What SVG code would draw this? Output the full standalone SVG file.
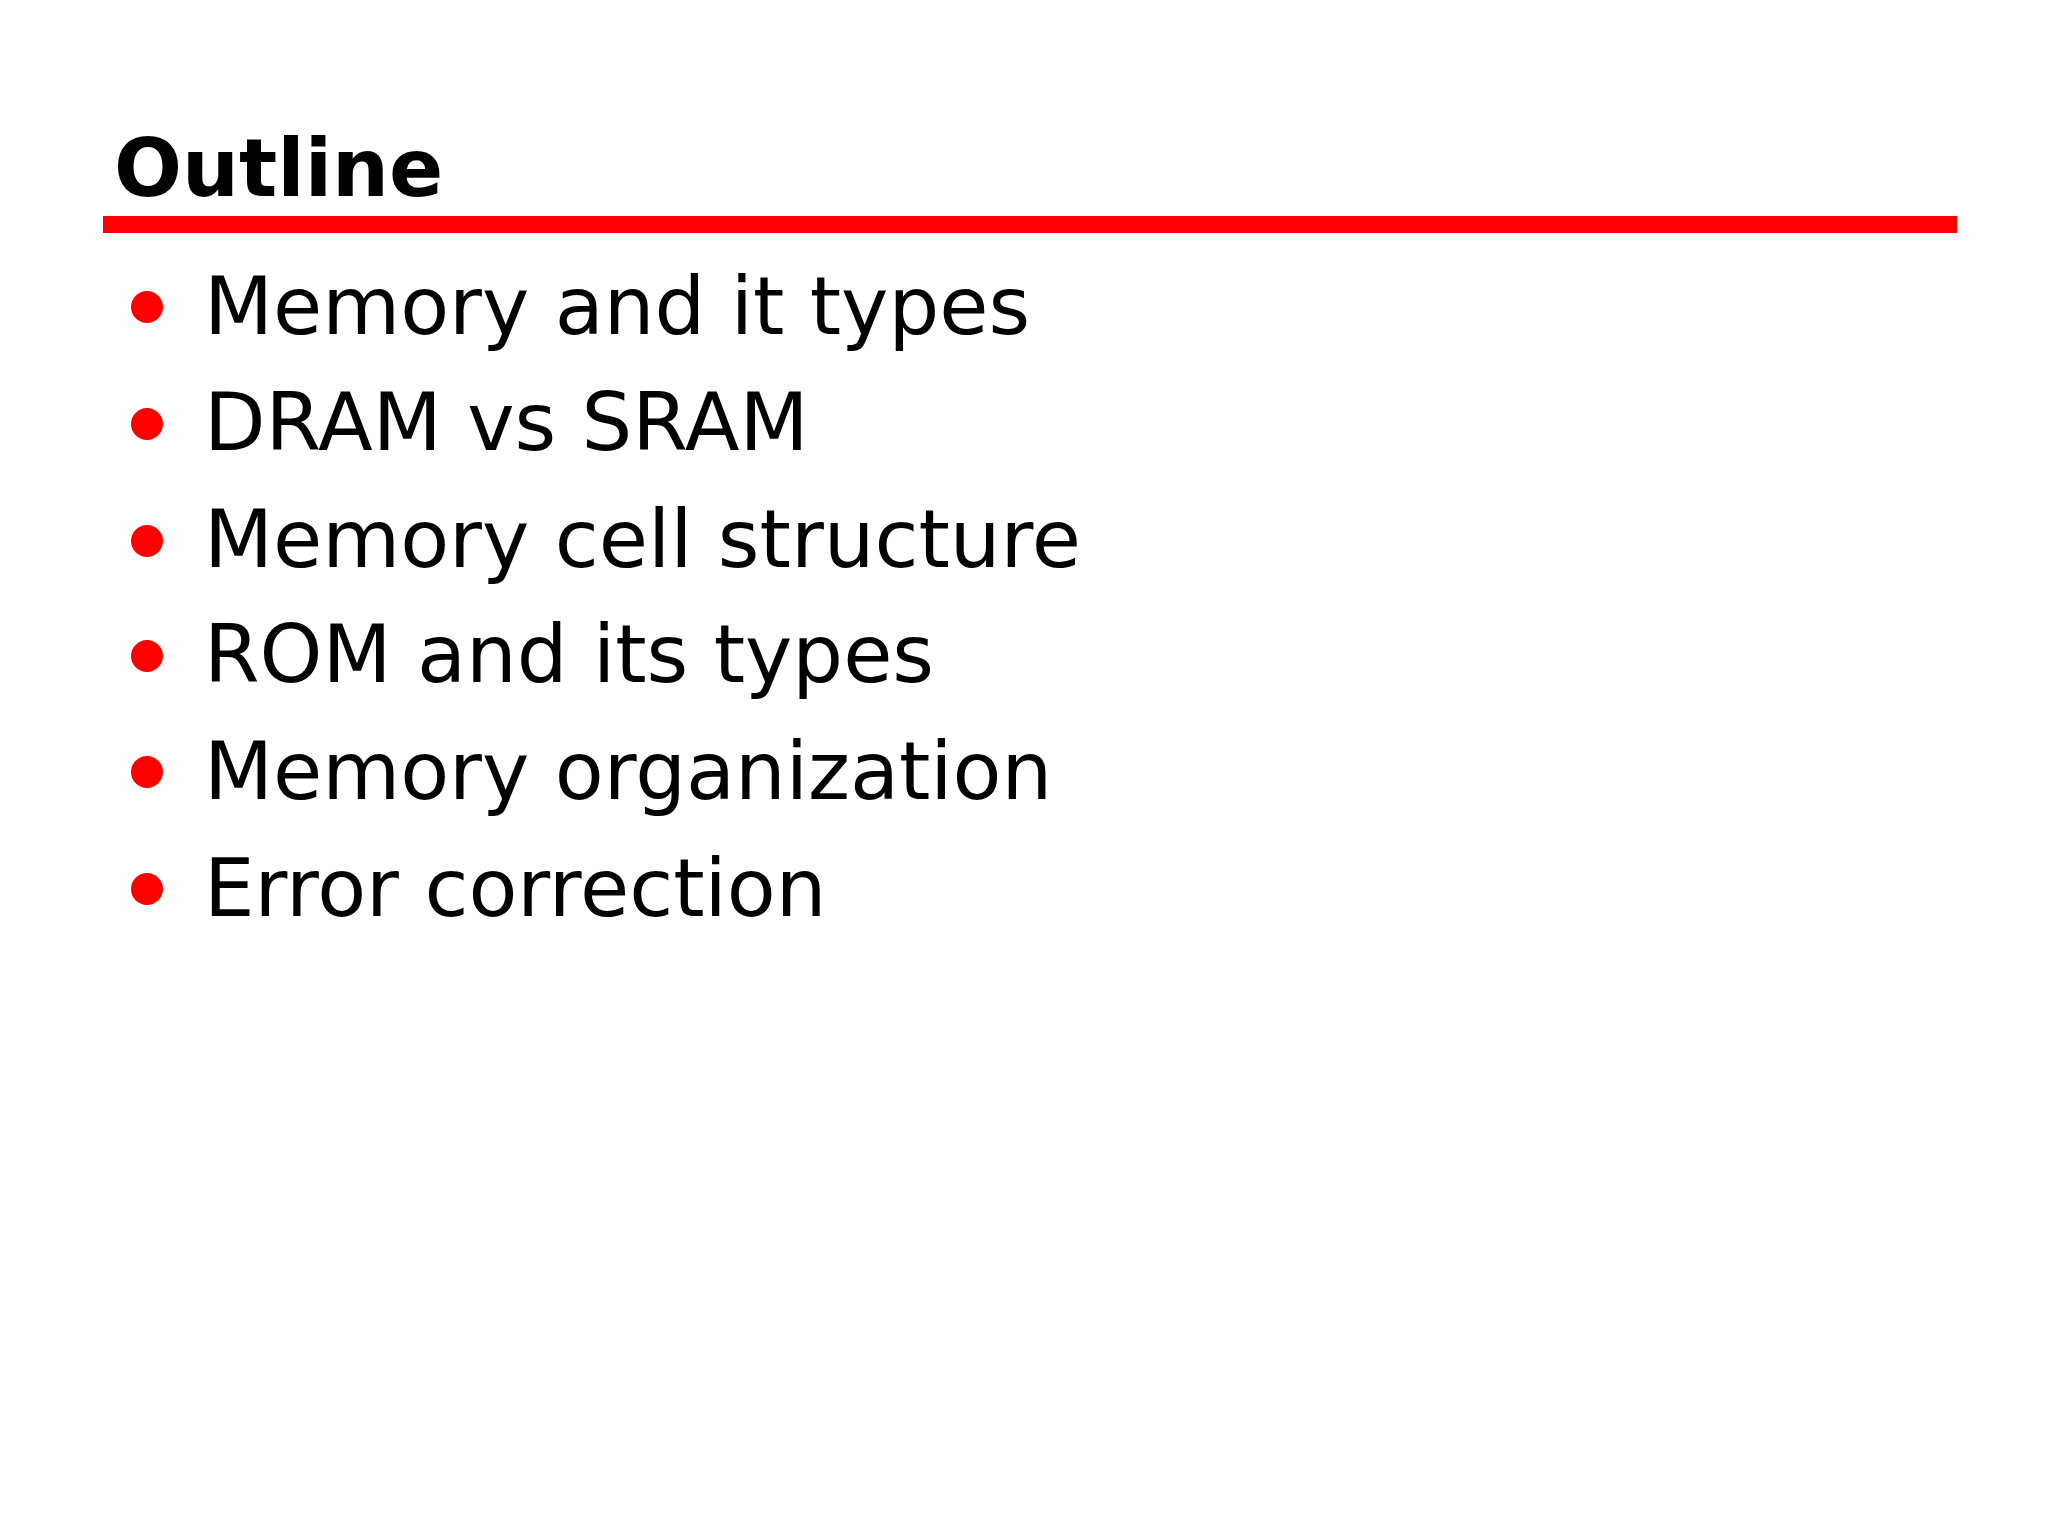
<svg xmlns="http://www.w3.org/2000/svg" width="2048" height="1536" viewBox="0 0 2048 1536">
<style>
.t{font-family:"DejaVu Sans",Verdana,sans-serif;font-size:80px;fill:#000}
.b{fill:#f00}
</style>
<rect width="2048" height="1536" fill="#fff"/>
<g id="title"><text x="114" y="196" font-family="DejaVu Sans, Verdana, sans-serif" font-weight="bold" font-size="80">Outline</text></g>
<rect id="rule" x="103" y="216" width="1854" height="17" fill="#f00"/>
<g id="item1"><circle class="b" cx="147" cy="307" r="16"/><text class="t" x="204" y="334">Memory and it types</text></g>
<g id="item2"><circle class="b" cx="147" cy="424" r="16"/><text class="t" x="204" y="450">DRAM vs SRAM</text></g>
<g id="item3"><circle class="b" cx="147" cy="541" r="16"/><text class="t" x="204" y="567">Memory cell structure</text></g>
<g id="item4"><circle class="b" cx="147" cy="656" r="16"/><text class="t" x="204" y="682">ROM and its types</text></g>
<g id="item5"><circle class="b" cx="147" cy="772" r="16"/><text class="t" x="204" y="799">Memory organization</text></g>
<g id="item6"><circle class="b" cx="147" cy="889" r="16"/><text class="t" x="204" y="916">Error correction</text></g>
</svg>
